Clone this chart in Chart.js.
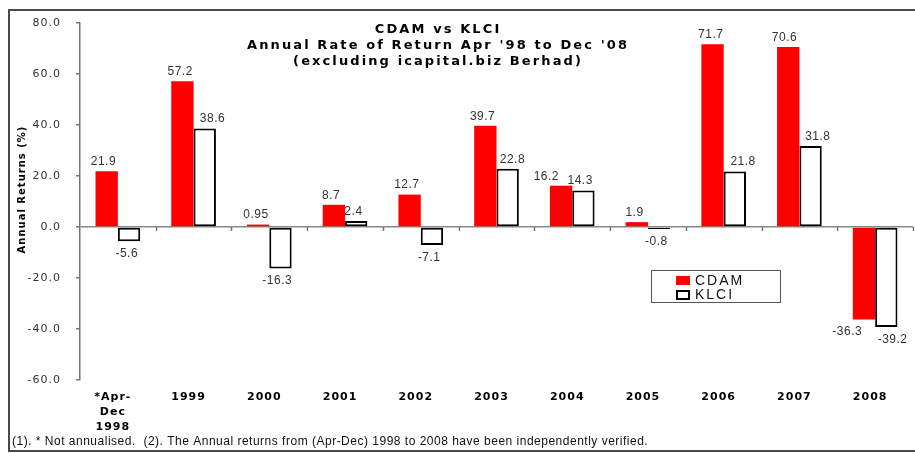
<!DOCTYPE html>
<html>
<head>
<meta charset="utf-8">
<script src="https://cdn.jsdelivr.net/npm/chart.js@4/dist/chart.umd.min.js"></script>
<style>
html,body{margin:0;padding:0;background:#fff;}
#wrap{position:absolute;left:0;top:0;width:915px;height:453px;}
</style>
</head>
<body>
<div id="wrap"><canvas id="c" width="915" height="453"></canvas></div>
<script>
const categories = [['*Apr-','Dec','1998'],'1999','2000','2001','2002','2003','2004','2005','2006','2007','2008'];
const cdamValues = [21.9, 57.2, 0.95, 8.7, 12.7, 39.7, 16.2, 1.9, 71.7, 70.6, -36.3];
const klciValues = [-5.6, 38.6, -16.3, 2.4, -7.1, 22.8, 14.3, -0.8, 21.8, 31.8, -39.2];
const cdamLabels = ['21.9','57.2','0.95','8.7','12.7','39.7','16.2','1.9','71.7','70.6','-36.3'];
const klciLabels = ['-5.6','38.6','-16.3','2.4','-7.1','22.8','14.3','-0.8','21.8','31.8','-39.2'];
const seriesNames = ['CDAM','KLCI'];
const titleLines = ['CDAM vs KLCI', "Annual Rate of Return Apr '98 to Dec '08", '(excluding icapital.biz Berhad)'];
const yAxisTitle = 'Annual Returns (%)';
const footnote = '(1). * Not annualised.  (2). The Annual returns from (Apr-Dec) 1998 to 2008 have been independently verified.';
const yMin = -60, yMax = 80, yStep = 20;

function drawSpaced(ctx, text, x, y, sp, align) {
  const chars = Array.from(text);
  const ws = chars.map(c => ctx.measureText(c).width);
  const total = ws.reduce((a, b) => a + b, 0) + sp * (chars.length - 1);
  let cx = align === 'center' ? x - total / 2 : (align === 'right' ? x - total : x);
  ctx.textAlign = 'left';
  chars.forEach((c, i) => { ctx.fillText(c, cx, y); cx += ws[i] + sp; });
}

// small horizontal nudges of value labels relative to their bar centre (as placed in the original)
const labelNudge = [
  [-3.5, -2.5, -2.5, -3, -3, -3, -15, -2.5, -2, -4, -17],
  [-2.5, 7.5, -3.5, -3, -3, 4.5, -3.5, -3, 8, 7, 6]
];

const decor = {
  id: 'decor',
  beforeDraw(chart) {
    const ctx = chart.ctx;
    ctx.save();
    ctx.strokeStyle = '#4a4a4a';
    ctx.lineWidth = 2;
    ctx.strokeRect(9, 10, 912, 441);
    ctx.restore();
    ctx.letterSpacing = '1px';
  },
  afterDatasetsDraw(chart) {
    const ctx = chart.ctx;
    const y = chart.scales.y;
    const zy = y.getPixelForValue(0);
    ctx.save();
    ctx.letterSpacing = '0px';
    ctx.strokeStyle = '#777';
    ctx.lineWidth = 1.5;
    const n = categories.length;
    const cw = (chart.chartArea.right - chart.chartArea.left) / n;
    for (let i = 1; i <= n; i++) {
      const px = Math.round(chart.chartArea.left + i * cw) + 0.5;
      ctx.beginPath(); ctx.moveTo(px, zy); ctx.lineTo(px, zy + 4); ctx.stroke();
    }
    const labelSets = [cdamLabels, klciLabels];
    ctx.font = '12px "Liberation Sans", Arial, sans-serif';
    ctx.fillStyle = '#333';
    ctx.textBaseline = 'middle';
    chart.data.datasets.forEach((ds, di) => {
      const meta = chart.getDatasetMeta(di);
      meta.data.forEach((el, i) => {
        const v = ds.data[i];
        const ty = v >= 0 ? el.y - 9.5 : el.y + 12.5;
        drawSpaced(ctx, labelSets[di][i], el.x + labelNudge[di][i], ty, 0.5, 'center');
      });
    });
    ctx.restore();
  },
  afterDraw(chart) {
    const ctx = chart.ctx;
    ctx.save();
    ctx.letterSpacing = '0px';
    ctx.fillStyle = '#000';
    ctx.textBaseline = 'middle';
    ctx.font = 'bold 13px "DejaVu Sans", Verdana, sans-serif';
    const tys = [29.5, 45.5, 61.5];
    titleLines.forEach((t, i) => drawSpaced(ctx, t, 437, tys[i], 2.1, 'center'));
    ctx.save();
    ctx.translate(22, 190);
    ctx.rotate(-Math.PI / 2);
    ctx.font = 'bold 10px "DejaVu Sans", Verdana, sans-serif';
    drawSpaced(ctx, yAxisTitle, 0, 0, 1, 'center');
    ctx.restore();
    ctx.strokeStyle = '#555';
    ctx.lineWidth = 1;
    ctx.fillStyle = '#fff';
    ctx.fillRect(651, 270, 129, 32);
    ctx.strokeRect(651.5, 270.5, 129, 32);
    ctx.fillStyle = '#ff0000';
    ctx.fillRect(676, 276, 14, 9);
    ctx.strokeStyle = '#000';
    ctx.lineWidth = 2;
    ctx.fillStyle = '#fff';
    ctx.fillRect(677, 291, 12, 8);
    ctx.strokeRect(677, 291, 12, 8);
    ctx.fillStyle = '#111';
    ctx.font = '14px "Liberation Sans", Arial, sans-serif';
    drawSpaced(ctx, seriesNames[0], 695, 281, 2, 'left');
    drawSpaced(ctx, seriesNames[1], 695, 295, 2, 'left');
    ctx.font = '12px "Liberation Sans", Arial, sans-serif';
    ctx.fillStyle = '#111';
    drawSpaced(ctx, footnote, 12, 442, 0.5, 'left');
    ctx.restore();
  }
};

new Chart(document.getElementById('c'), {
  type: 'bar',
  data: {
    labels: categories,
    datasets: [
      { label: seriesNames[0], data: cdamValues, backgroundColor: '#ff0000', borderWidth: 0 },
      { label: seriesNames[1], data: klciValues, backgroundColor: '#ffffff', borderColor: '#000', borderWidth: 2, borderSkipped: false }
    ]
  },
  options: {
    responsive: false,
    animation: false,
    devicePixelRatio: 1,
    layout: { padding: { left: 0, right: 2, top: 23, bottom: 0 } },
    plugins: { legend: { display: false }, title: { display: false }, tooltip: { enabled: false } },
    datasets: { bar: { categoryPercentage: 0.59, barPercentage: 1.0 } },
    scales: {
      x: {
        grid: { display: false, drawTicks: false },
        border: { display: false },
        ticks: {
          color: '#000',
          font: { family: '"DejaVu Sans", Verdana, sans-serif', size: 11, weight: 'bold', lineHeight: 1.35 },
          padding: 10,
          labelOffset: -5,
          maxRotation: 0, autoSkip: false
        },
        afterFit(s) { s.height = 73; }
      },
      y: {
        min: yMin, max: yMax,
        ticks: {
          stepSize: yStep,
          color: '#333',
          padding: 15,
          font: { family: '"DejaVu Sans", Verdana, sans-serif', size: 11 },
          callback: v => Number(v).toFixed(1)
        },
        grid: {
          drawOnChartArea: true,
          color: c => (c.tick && c.tick.value === 0) ? '#888' : 'rgba(0,0,0,0)',
          lineWidth: 1.5,
          tickColor: '#777',
          tickLength: 4
        },
        border: { display: true, color: '#777', width: 1.5 },
        title: { display: false },
        afterFit(s) { s.width = 80; }
      }
    }
  },
  plugins: [decor]
});
</script>
</body>
</html>
